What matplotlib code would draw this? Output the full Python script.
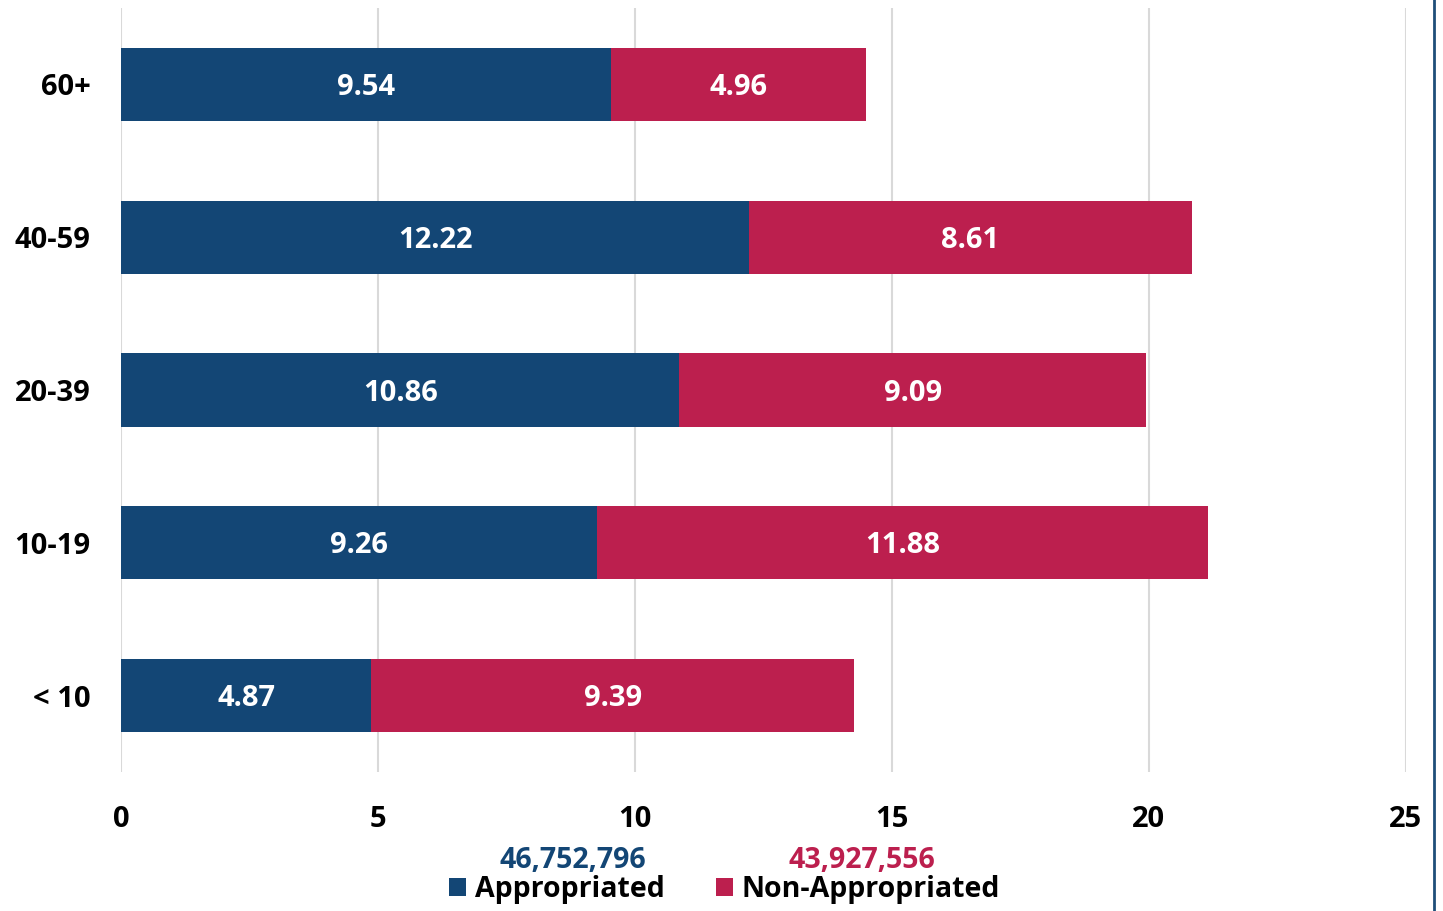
import matplotlib.pyplot as plt

# data
age_groups = ['< 10', '10-19', '20-39', '40-59', '60+']
appropriated = [4.87, 9.26, 10.86, 12.22, 9.54]
non_appropriated = [9.39, 11.88, 9.09, 8.61, 4.96]
totals = ['46,752,796', '43,927,556']
series_names = ['Appropriated', 'Non-Appropriated']

blue = '#134675'
red = '#BC1F4E'

plt.rcParams['font.family'] = ['Open Sans', 'DejaVu Sans']
plt.rcParams['font.weight'] = 'bold'

fig = plt.figure(figsize=(14.43, 9.11), dpi=100)
ax = fig.add_axes([0.0839, 0.1526, 0.8904, 0.8386])

y = range(len(age_groups))
b1 = ax.barh(y, appropriated, height=0.48, color=blue, label=series_names[0], zorder=3)
b2 = ax.barh(y, non_appropriated, left=appropriated, height=0.48, color=red,
             label=series_names[1], zorder=3)

# value labels in the middle of each segment
for i in range(len(age_groups)):
    ax.text(appropriated[i] / 2, i - 0.02, f'{appropriated[i]:.2f}', color='white',
            ha='center', va='center', fontsize=21, fontweight='bold', zorder=4)
    ax.text(appropriated[i] + non_appropriated[i] / 2, i - 0.02, f'{non_appropriated[i]:.2f}',
            color='white', ha='center', va='center', fontsize=21, fontweight='bold', zorder=4)

ax.set_xlim(0, 25)
ax.set_ylim(-0.5, 4.5)
ax.set_xticks([0, 5, 10, 15, 20, 25])
ax.set_yticks(list(y))
ax.set_yticklabels(age_groups)
ax.tick_params(axis='both', length=0, labelsize=21)
ax.tick_params(axis='x', pad=24)
ax.tick_params(axis='y', pad=22)
ax.grid(axis='x', color='#d9d9d9', linewidth=1.5, zorder=0)
for s in ax.spines.values():
    s.set_visible(False)

# right edge border line
fig.add_artist(plt.Line2D([0.9938, 0.9938], [0, 1], color='#1f4e79', linewidth=2))

# totals above the legend entries
fig.text(0.397, 0.055, totals[0], color=blue, fontsize=20.5, ha='center', va='center', fontweight='bold')
fig.text(0.597, 0.055, totals[1], color=red, fontsize=20.5, ha='center', va='center', fontweight='bold')

fig.legend(handles=[b1, b2], loc='center', bbox_to_anchor=(0.502, 0.024), ncol=2, frameon=False,
           fontsize=20.5, handlelength=0.6, handleheight=0.6, handletextpad=0.3, columnspacing=1.8,
           borderpad=0)

fig.savefig('out.png', dpi=100)
